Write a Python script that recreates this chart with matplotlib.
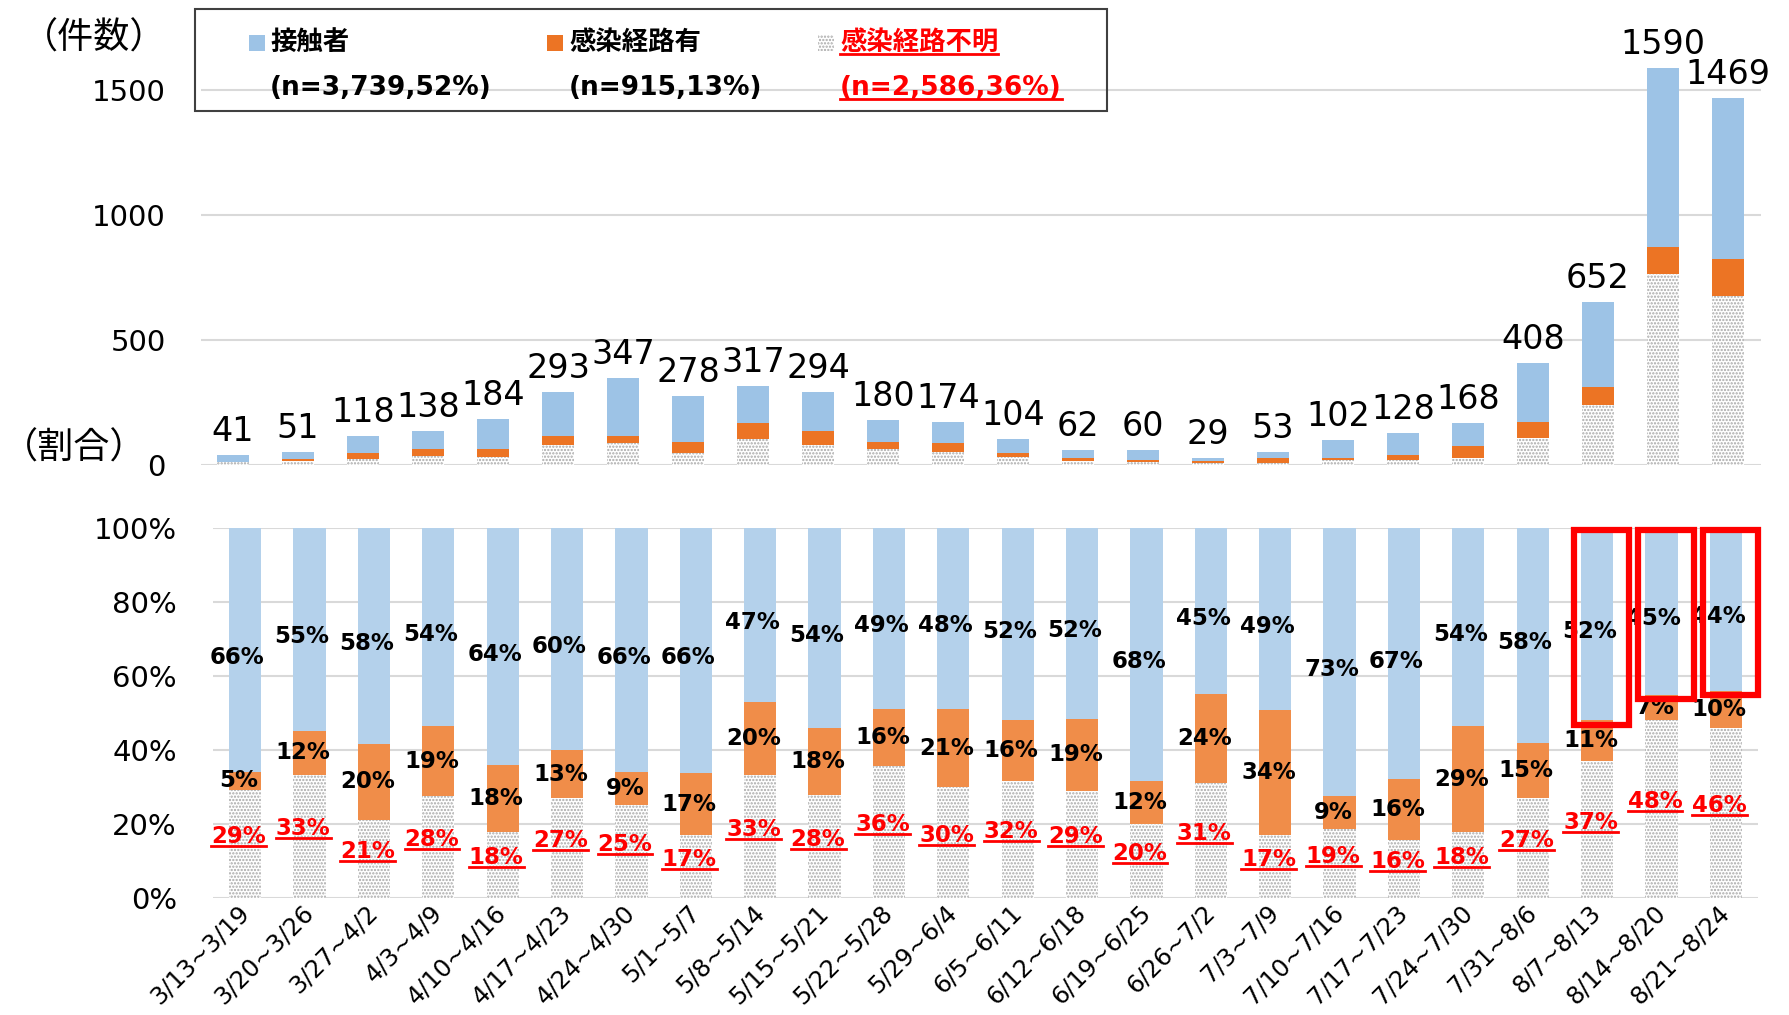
import matplotlib
matplotlib.use('Agg')
import matplotlib.pyplot as plt
from matplotlib.patches import Rectangle
from matplotlib.lines import Line2D
from matplotlib.transforms import IdentityTransform
import numpy as np

plt.rcParams['font.family'] = ['DejaVu Sans', 'Noto Sans CJK JP']
plt.rcParams['hatch.linewidth'] = 1.1

# ---------------- data ----------------
weeks = ['3/13~3/19', '3/20~3/26', '3/27~4/2', '4/3~4/9', '4/10~4/16', '4/17~4/23',
         '4/24~4/30', '5/1~5/7', '5/8~5/14', '5/15~5/21', '5/22~5/28', '5/29~6/4',
         '6/5~6/11', '6/12~6/18', '6/19~6/25', '6/26~7/2', '7/3~7/9', '7/10~7/16',
         '7/17~7/23', '7/24~7/30', '7/31~8/6', '8/7~8/13', '8/14~8/20', '8/21~8/24']
totals = [41, 51, 118, 138, 184, 293, 347, 278, 317, 294, 180, 174,
          104, 62, 60, 29, 53, 102, 128, 168, 408, 652, 1590, 1469]
contact = [27, 28, 69, 74, 118, 176, 229, 184, 149, 159, 88, 85,
           54, 32, 41, 13, 26, 74, 87, 90, 237, 339, 716, 646]
route = [2, 6, 24, 26, 33, 38, 31, 47, 63, 53, 28, 37,
         17, 12, 7, 7, 18, 9, 21, 48, 61, 72, 111, 147]
unknown = [12, 17, 25, 38, 33, 79, 87, 47, 105, 82, 64, 52,
           33, 18, 12, 9, 9, 19, 20, 30, 110, 241, 763, 676]
pct_contact = [66, 55, 58, 54, 64, 60, 66, 66, 47, 54, 49, 48,
               52, 52, 68, 45, 49, 73, 67, 54, 58, 52, 45, 44]
pct_route = [5, 12, 20, 19, 18, 13, 9, 17, 20, 18, 16, 21,
             16, 19, 12, 24, 34, 9, 16, 29, 15, 11, 7, 10]
pct_unknown = [29, 33, 21, 28, 18, 27, 25, 17, 33, 28, 36, 30,
               32, 29, 20, 31, 17, 19, 16, 18, 27, 37, 48, 46]
legend_names = ['接触者', '感染経路有', '感染経路不明']
legend_counts = ['(n=3,739,52%)', '(n=915,13%)', '(n=2,586,36%)']
highlight = ['8/7~8/13', '8/14~8/20', '8/21~8/24']
top_ticks = [0, 500, 1000, 1500]
bottom_ticks = [0, 0.2, 0.4, 0.6, 0.8, 1.0]

# ---------------- styles ----------------
BLUE_T, ORANGE_T = '#9DC3E6', '#EC7424'
BLUE_B, ORANGE_B = '#B4D1EB', '#F08D49'
DOT = '#A8A8A8'
GRID = '#D9D9D9'
RED = '#FF0000'

W, H = 1789, 1015
fig = plt.figure(figsize=(W / 100, H / 100), dpi=100)


def fx(px):
    return px / W


def fy(py):
    return 1 - py / H


x = np.arange(len(weeks))
c = np.array(contact, float)
r = np.array(route, float)
u = np.array(unknown, float)

# ---------------- top panel ----------------
ax1 = fig.add_axes([fx(200.5), fy(465), 1560 / W, 400 / H])
ax1.bar(x, u, 0.5, color='white', edgecolor=DOT, linewidth=0, hatch='.....', zorder=2)
ax1.bar(x, r, 0.5, bottom=u, color=ORANGE_T, linewidth=0, zorder=2)
ax1.bar(x, c, 0.5, bottom=u + r, color=BLUE_T, linewidth=0, zorder=2)
for i, t in enumerate(totals):
    ax1.annotate(str(t), (x[i], u[i] + r[i] + c[i]), xytext=(0, 5),
                 textcoords='offset points', ha='center', va='bottom',
                 fontsize=24, annotation_clip=False, zorder=5)
ax1.set_xlim(-0.5, len(weeks) - 0.5)
ax1.set_ylim(0, 1600)
ax1.set_yticks(top_ticks)
ax1.set_yticklabels([str(v) for v in top_ticks], fontsize=21)
ax1.tick_params(axis='y', length=0, pad=25)
ax1.set_xticks([])
ax1.yaxis.grid(True, color=GRID, linewidth=1.5, zorder=0)
ax1.set_axisbelow(True)
for s in ax1.spines.values():
    s.set_visible(False)

# ---------------- bottom panel ----------------
tot = c + r + u
fu, fr, fc = u / tot, r / tot, c / tot
ax2 = fig.add_axes([fx(213), fy(898), 1545 / W, 370 / H])
ax2.bar(x, fu, 0.5, color='white', edgecolor=DOT, linewidth=0, hatch='.....', zorder=2)
ax2.bar(x, fr, 0.5, bottom=fu, color=ORANGE_B, linewidth=0, zorder=2)
ax2.bar(x, fc, 0.5, bottom=fu + fr, color=BLUE_B, linewidth=0, zorder=2)
ax2.set_xlim(-0.5, len(weeks) - 0.5)
ax2.set_ylim(0, 1)
ax2.set_yticks(bottom_ticks)
ax2.set_yticklabels([f'{int(round(v * 100))}%' for v in bottom_ticks], fontsize=21)
ax2.tick_params(axis='y', length=0, pad=26)
ax2.set_xticks(x)
ax2.set_xticklabels(weeks, rotation=45, ha='right', va='center',
                    rotation_mode='anchor', fontsize=17.5)
ax2.tick_params(axis='x', length=0, pad=8)
ax2.yaxis.grid(True, color=GRID, linewidth=1.5, zorder=0)
ax2.set_axisbelow(True)
for s in ax2.spines.values():
    s.set_visible(False)

red_texts = []
for i in range(len(weeks)):
    ax2.text(x[i] - 0.12, fu[i] + fr[i] + fc[i] / 2 - 0.02, f'{pct_contact[i]}%',
             ha='center', va='center', fontsize=16.5, fontweight='bold', zorder=6)
    ax2.text(x[i] - 0.1, fu[i] + fr[i] / 2, f'{pct_route[i]}%', ha='center',
             va='center', fontsize=16.5, fontweight='bold', zorder=6)
    t = ax2.text(x[i] - 0.1, fu[i] / 2 + 0.02, f'{pct_unknown[i]}%', ha='center',
                 va='center', fontsize=16.5, fontweight='bold', color=RED, zorder=6)
    red_texts.append(t)

for w in highlight:
    i = weeks.index(w)
    y0 = fu[i] + fr[i] - 0.012
    ax2.add_patch(Rectangle((x[i] - 0.36, y0), 0.86, 0.995 - y0, fill=False,
                            edgecolor=RED, linewidth=4.5, zorder=7, clip_on=False))

# ---------------- axis captions ----------------
fig.text(fx(22), fy(38), '（件数）', fontsize=26, va='center', ha='left')
fig.text(fx(2), fy(448), '（割合）', fontsize=26, va='center', ha='left')

# ---------------- legend ----------------
fig.patches.append(Rectangle((fx(195), fy(111)), (1107 - 195) / W, (111 - 9) / H,
                             transform=fig.transFigure, fill=False,
                             edgecolor='#404040', linewidth=1.5))
col_marker = [249, 547, 818]
col_text = [270, 569, 840]
row_y = [43, 88]
m = 16
face = [BLUE_T, ORANGE_T, 'white']
for k in range(3):
    rect = Rectangle((fx(col_marker[k]), fy(row_y[0] + m / 2)), m / W, m / H,
                     transform=fig.transFigure, facecolor=face[k],
                     edgecolor=DOT if k == 2 else face[k], linewidth=0,
                     hatch='.....' if k == 2 else None)
    fig.patches.append(rect)
    col = RED if k == 2 else 'black'
    t1 = fig.text(fx(col_text[k]), fy(row_y[0]), legend_names[k], fontsize=19,
                  fontweight='bold', va='center', ha='left', color=col)
    t2 = fig.text(fx(col_text[k]), fy(row_y[1]), legend_counts[k], fontsize=19,
                  fontweight='bold', va='center', ha='left', color=col)
    if k == 2:
        red_texts += [t1, t2]

# underline red texts
fig.canvas.draw()
renderer = fig.canvas.get_renderer()
for t in red_texts:
    bb = t.get_window_extent(renderer)
    fig.add_artist(Line2D([bb.x0, bb.x1], [bb.y0 + 2, bb.y0 + 2], color=RED,
                          linewidth=2, transform=IdentityTransform(), zorder=8))

fig.savefig('out.png', dpi=100)
